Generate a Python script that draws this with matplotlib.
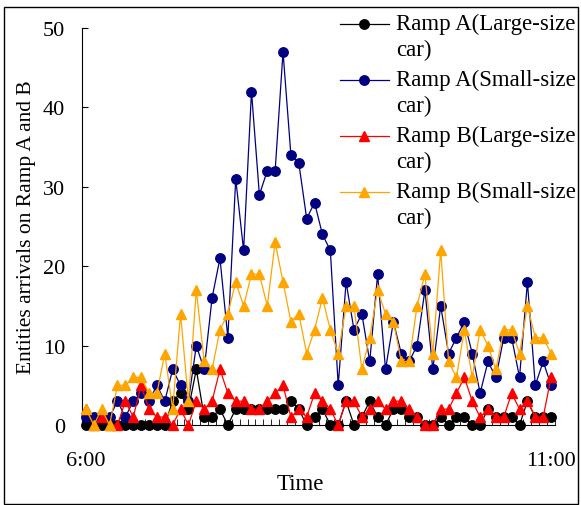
import matplotlib
matplotlib.use("Agg")
import matplotlib.pyplot as plt
import numpy as np
from matplotlib.lines import Line2D
from matplotlib.patches import Rectangle

plt.rcParams['font.family'] = ['Liberation Serif', 'DejaVu Serif']

# 5-minute counts, 6:00 - 11:00 (60 intervals)
ramp_a_large = [0, 0, 0, 0, 0, 0, 0, 0, 0, 0, 0, 3, 4, 2, 7, 1, 1, 2, 0, 2,
                2, 2, 2, 2, 2, 2, 3, 2, 0, 1, 2, 0, 0, 3, 0, 1, 3, 1, 0, 2,
                2, 1, 1, 0, 0, 1, 0, 1, 1, 0, 0, 2, 1, 1, 1, 0, 3, 1, 1, 1]
ramp_a_small = [1, 1, 1, 1, 3, 1, 3, 4, 3, 5, 3, 7, 5, 3, 10, 7, 16, 21, 11, 31,
                22, 42, 29, 32, 32, 47, 34, 33, 26, 28, 24, 22, 5, 18, 12, 14, 8, 19, 7, 13,
                9, 8, 10, 17, 7, 15, 9, 11, 13, 9, 4, 8, 6, 11, 11, 6, 18, 5, 8, 5]
ramp_b_large = [2, 0, 1, 0, 0, 3, 1, 5, 2, 1, 1, 0, 2, 0, 3, 2, 3, 7, 4, 3,
                3, 2, 2, 3, 4, 5, 1, 2, 1, 4, 3, 2, 0, 3, 3, 1, 2, 3, 2, 3,
                3, 2, 1, 0, 0, 2, 2, 4, 6, 3, 1, 2, 1, 1, 4, 2, 3, 1, 1, 6]
ramp_b_small = [2, 0, 2, 0, 5, 5, 6, 6, 4, 4, 9, 2, 14, 3, 17, 8, 7, 12, 14, 18,
                15, 19, 19, 15, 23, 18, 13, 14, 9, 12, 16, 12, 9, 15, 15, 7, 11, 17, 14, 13,
                8, 8, 15, 19, 9, 22, 8, 6, 12, 6, 12, 10, 7, 12, 12, 9, 15, 11, 11, 9]

series = [
    ("Ramp A(Large-size\ncar)", ramp_a_large, "black", "o"),
    ("Ramp A(Small-size\ncar)", ramp_a_small, "#000080", "o"),
    ("Ramp B(Large-size\ncar)", ramp_b_large, "#FF0000", "^"),
    ("Ramp B(Small-size\ncar)", ramp_b_small, "#FFA500", "^"),
]

W, H = 581, 506
fig = plt.figure(figsize=(W / 100, H / 100), dpi=100)
ax = fig.add_axes([82 / W, 1 - 426 / H, (555 - 82) / W, (426 - 29) / H])

x = np.arange(len(ramp_a_large))
for i, (label, vals, col, mk) in enumerate(series):
    ax.plot(x, vals, color=col, lw=0.9, marker=mk, markersize=6.8,
            markeredgecolor=col, markerfacecolor=col, clip_on=False, zorder=3 + i)

ax.set_xlim(-0.5, len(x) - 0.5)
ax.set_ylim(0, 50)
ax.spines['top'].set_visible(False)
ax.spines['right'].set_visible(False)
ax.set_yticks(np.arange(0, 51, 10))
ax.set_xticks([0, len(x) - 1])
ax.set_xticklabels(["6:00", "11:00"])
ax.set_xticks(np.arange(-0.5, len(x), 1.0), minor=True)
ax.tick_params(axis='y', direction='in', length=4, pad=12, labelsize=16)
ax.tick_params(axis='x', which='major', length=0, pad=19, labelsize=16)
ax.tick_params(axis='x', which='minor', direction='in', length=4)
ax.set_ylabel("Entities arrivals on Ramp A and B", fontsize=15.5, labelpad=5)
fig.text(300 / W, 1 - 485 / H, "Time", ha='center', va='center', fontsize=16.5)

# legend drawn manually: handle aligned with first line of each label
for i, (label, vals, col, mk) in enumerate(series):
    yc = 1 - (25 + 56 * i) / H
    fig.add_artist(Line2D([340 / W, 389 / W], [yc, yc], color=col, lw=0.9))
    fig.add_artist(Line2D([364.5 / W], [yc], color=col, marker=mk, markersize=6.8,
                          markerfacecolor=col, markeredgecolor=col, lw=0))
    fig.text(396 / W, yc + 11 / H, label, ha='left', va='top', fontsize=16.5,
             linespacing=1.32)

fig.add_artist(Rectangle((4 / W, 1 / H), 574 / W, 497 / H, transform=fig.transFigure,
                         fill=False, edgecolor='black', lw=1))

fig.savefig("out.png", dpi=100)
